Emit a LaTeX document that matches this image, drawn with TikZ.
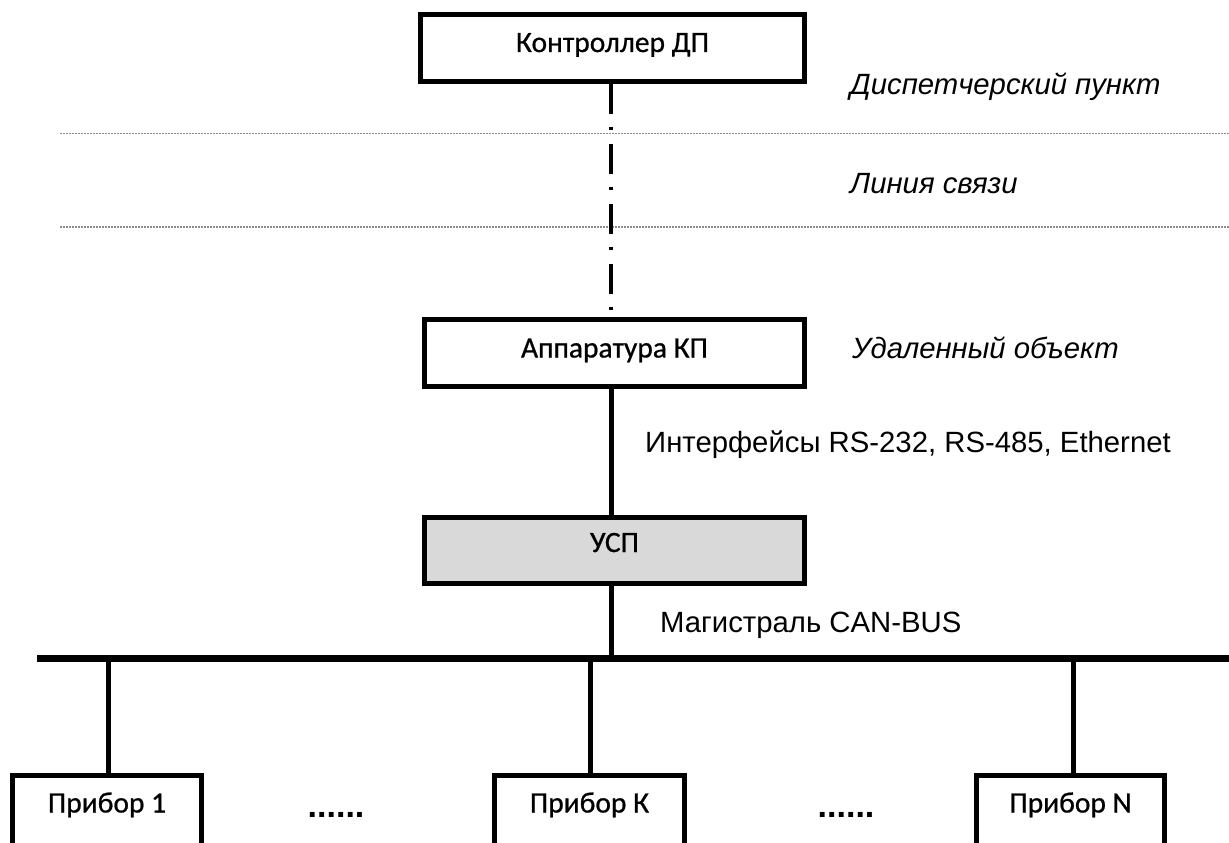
\documentclass[tikz,border=0pt]{standalone}
\usepackage{fontspec}
\setmainfont{Carlito}
\newfontfamily\boxfont[FakeBold=0.7]{Carlito}
\newfontfamily\arialf{Liberation Sans}
\newcommand{\boxtxt}[2]{\raisebox{#1}[0pt][0pt]{#2}}
\begin{document}
\begin{tikzpicture}[x=1pt,y=-1pt,
  box/.style={draw, line width=5pt, inner sep=0pt, outer sep=2.5pt,
    minimum height=67pt, font=\boxfont\fontsize{29.5}{32}\selectfont},
  devbox/.style={box, minimum width=189pt, minimum height=75pt},
  sidelbl/.style={anchor=base west, inner sep=0pt, font=\arialf\itshape\fontsize{29.3}{33}\selectfont},
  ifacelbl/.style={anchor=base west, inner sep=0pt, font=\arialf\fontsize{29.3}{33}\selectfont},
  dotslbl/.style={anchor=base west, inner sep=0pt, font=\arialf\bfseries\fontsize{34}{36}\selectfont},
  wire/.style={line width=5pt},
  buswire/.style={line width=7pt},
  sepline/.style={draw=black!45, line width=1.5pt, dash pattern=on 1.5pt off 1.5pt},
  dashdotline/.style={line width=3.5pt, dash pattern=on 30pt off 12.5pt on 3pt off 14.5pt}
]
\useasboundingbox (0,0) rectangle (1229,843);
\clip (0,0) rectangle (1229,843);

% separators
\coordinate (s1l) at (60,133.5);
\coordinate (s1r) at (1229,133.5);
\coordinate (s2l) at (60,227);
\coordinate (s2r) at (1229,227);
\draw[sepline] (s1l) -- (s1r);
\draw[sepline] (s2l) -- (s2r);

% boxes
\node[box, minimum width=384pt] (ctl) at (612.5,48) {\boxtxt{-4pt}{Контроллер ДП}};
\node[box, minimum width=380pt] (kp) at (614.5,353) {\boxtxt{-4.5pt}{Аппаратура КП}};
\node[box, minimum width=380pt, minimum height=66pt, fill=black!15] (usp) at (614.5,550.5) {\boxtxt{-1.5pt}{УСП}};

\node[devbox] (p1) at (107,813) {\boxtxt{0.5pt}{Прибор 1}};
\node[devbox, minimum width=190pt] (pk) at (589.5,813) {\boxtxt{0.5pt}{Прибор К}};
\node[devbox, minimum width=188pt] (pn) at (1070.5,813) {\boxtxt{0.5pt}{Прибор N}};

% side labels
\node[sidelbl] (l1) at (850,94) {Диспетчерский пункт};
\node[sidelbl] (l2) at (850,193) {Линия связи};
\node[sidelbl] (l3) at (852,358) {Удаленный объект};
\node[ifacelbl] (l4) at (645,452) {Интерфейсы RS-232, RS-485, Ethernet};
\node[ifacelbl] (l5) at (660,632) {Магистраль CAN-BUS};

\node[dotslbl] (d1) at (307.5,817) {......};
\node[dotslbl] (d2) at (817.5,817) {......};

% connectors
\coordinate (ax) at (611,0);
\draw[dashdotline] (ctl.south -| ax) -- (kp.north -| ax);
\draw[wire] (kp.south -| ax) -- (usp.north -| ax);

\coordinate (busl) at (37,658);
\coordinate (busr) at (1235,658);
\draw[wire] (usp.south -| ax) -- (ax |- busl);
\draw[buswire] (busl) -- (busr);

\coordinate (d1x) at (108,0);
\coordinate (dkx) at (590,0);
\coordinate (dnx) at (1073,0);
\draw[wire] (d1x |- busl) -- (p1.north -| d1x);
\draw[wire] (dkx |- busl) -- (pk.north -| dkx);
\draw[wire] (dnx |- busl) -- (pn.north -| dnx);
\end{tikzpicture}
\end{document}
